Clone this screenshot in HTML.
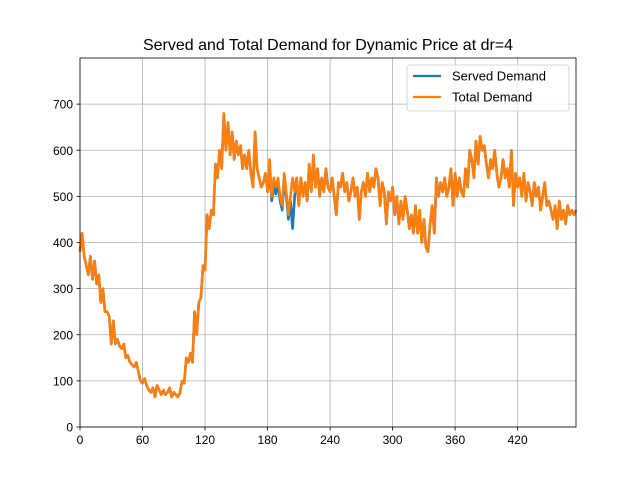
<!DOCTYPE html>
<html><head><meta charset="utf-8"><style>
body{margin:0;background:#fff;}
svg text{font-family:"Liberation Sans","DejaVu Sans",sans-serif;}
</style></head><body>
<svg id="chart" width="640" height="480" xmlns="http://www.w3.org/2000/svg">
<rect width="640" height="480" fill="#fff"/>
<text x="328" y="50" font-size="16" text-anchor="middle">Served and Total Demand for Dynamic Price at dr=4</text>
<g id="grid"></g><g id="series"></g><g id="axes"></g>
</svg>
<script>
const xTicks=[0,60,120,180,240,300,360,420];
const yTicks=[0,100,200,300,400,500,600,700];
const totalDemand=[380,420,370,350,330,370,320,360,310,330,270,300,250,250,240,180,230,180,190,175,170,180,150,155,140,135,130,140,120,100,95,105,90,80,75,85,65,90,80,70,80,70,75,85,65,75,70,65,75,100,95,150,140,160,140,250,200,270,280,350,340,460,430,470,460,570,540,600,560,680,600,660,590,640,580,620,590,610,560,590,560,600,550,520,640,560,540,520,530,550,510,580,500,540,520,540,500,480,550,510,460,500,540,510,540,480,540,500,530,490,570,510,590,520,560,500,540,510,560,520,510,540,500,460,530,520,550,510,530,490,510,540,500,520,450,510,530,500,550,510,540,520,560,540,480,530,510,440,510,490,520,460,500,440,490,450,500,470,430,460,420,480,420,470,400,450,390,380,440,480,420,540,500,530,510,540,500,520,560,480,550,500,540,510,500,560,520,600,580,540,620,570,630,600,610,570,540,580,560,600,550,520,540,580,540,560,520,600,480,550,520,540,500,550,490,530,510,480,530,500,520,470,500,530,480,490,470,450,480,430,490,450,470,440,480,460,470,460,470];
const servedDemand=[380,420,370,350,330,370,320,360,310,330,270,300,250,250,240,180,230,180,190,175,170,180,150,155,140,135,130,140,120,100,95,105,90,80,75,85,65,90,80,70,80,70,75,85,65,75,70,65,75,100,95,150,140,160,140,250,200,270,280,350,340,460,430,470,460,570,540,600,560,680,600,660,590,640,580,620,590,610,560,590,560,600,550,520,640,560,540,520,530,550,510,560,490,520,505,525,490,470,535,500,450,490,430,500,540,480,540,500,530,490,570,510,590,520,560,500,540,510,560,520,510,540,500,460,530,520,550,510,530,490,510,540,500,520,450,510,530,500,550,510,540,520,560,540,480,530,510,440,510,490,520,460,500,440,490,450,500,470,430,460,420,480,420,470,400,450,390,380,440,480,420,540,500,530,510,540,500,520,560,480,550,500,540,510,500,560,520,600,580,540,620,570,630,600,610,570,540,580,560,600,550,520,540,580,540,560,520,600,480,550,520,540,500,550,490,530,510,480,530,500,520,470,500,530,480,490,470,450,480,430,490,450,470,440,480,460,470,460,470];
const tStep=2;
const X0=80,X1=576,Y0=427,Y1=58,XMAX=476,YMAX=800;
const xs=t=>X0+(t/XMAX)*(X1-X0);
const ys=v=>Y0-(v/YMAX)*(Y0-Y1);
const NS="http://www.w3.org/2000/svg";
function mk(tag,attrs,parent){const e=document.createElementNS(NS,tag);for(const k in attrs)e.setAttribute(k,attrs[k]);parent.appendChild(e);return e;}
const grid=document.getElementById('grid'),axes=document.getElementById('axes'),series=document.getElementById('series');
xTicks.forEach(t=>{
 const g=mk('line',{x1:xs(t),x2:xs(t),y1:Y1,y2:Y0,stroke:'#b0b0b0','stroke-width':0.8},grid);
 
 
 const tk=mk('line',{x1:xs(t),x2:xs(t),y1:Y0,y2:Y0+3.5,stroke:'#000','stroke-width':0.8},axes);
 
 
 const tx=mk('text',{x:xs(t),y:Y0+17,'font-size':12,'text-anchor':'middle'},axes);tx.textContent=t;
 
 
});
yTicks.forEach(v=>{
 const g=mk('line',{x1:X0,x2:X1,y1:ys(v),y2:ys(v),stroke:'#b0b0b0','stroke-width':0.8},grid);
 
 
 const tk=mk('line',{x1:X0-3.5,x2:X0,y1:ys(v),y2:ys(v),stroke:'#000','stroke-width':0.8},axes);
 
 
 const tx=mk('text',{x:X0-7,y:ys(v)+4.5,'font-size':12,'text-anchor':'end'},axes);tx.textContent=v;
 
 
});
function path(arr){return arr.map((v,i)=>(i?'L':'M')+xs(i*tStep).toFixed(1)+','+ys(v).toFixed(1)).join('');}
const s1=mk('path',{d:path(servedDemand),fill:'none',stroke:'#1f77b4','stroke-width':2.6,'stroke-linejoin':'round'},series);


const s2=mk('path',{d:path(totalDemand),fill:'none',stroke:'#ff7f0e','stroke-width':2.6,'stroke-linejoin':'round'},series);


const fr=mk('rect',{x:X0,y:Y1,width:X1-X0,height:Y0-Y1,fill:'none',stroke:'#000','stroke-width':0.8},axes);


const lg=mk('g',{},axes);


mk('rect',{x:407,y:65,width:162,height:46,rx:3,fill:'#fff','fill-opacity':0.8,stroke:'#ccc','stroke-width':0.8},lg);
const entries=[['Served Demand','#1f77b4',76],['Total Demand','#ff7f0e',97]];
entries.forEach(([name,c,y])=>{
 const e=mk('g',{},lg);
 
 
 mk('line',{x1:413,x2:441,y1:y,y2:y,stroke:c,'stroke-width':2.2},e);
 const t=mk('text',{x:452,y:y+4.5,'font-size':13},e);t.textContent=name;
});
</script>
</body></html>
